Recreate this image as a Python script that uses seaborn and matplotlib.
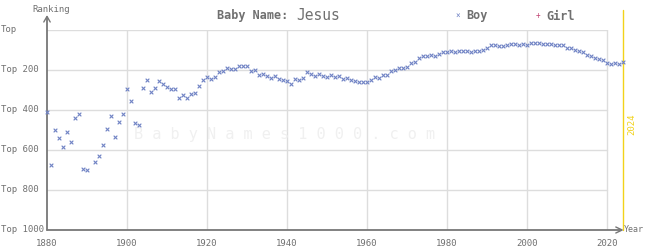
import numpy as np
import pandas as pd
import matplotlib
matplotlib.use("Agg")
import matplotlib.pyplot as plt
import seaborn as sns

# ---- data ----
years = list(range(1880, 2025))
boy_rank = [
    412, 675, 500, 542, 587, 512, 562, 442, 422, 697,   # 1880-1889
    702, np.nan, 662, 632, 577, 495, 432, 537, 462, 422, # 1890-1899
    297, 357, 465, 477, 292, 252, 312, 292, 257, 272,    # 1900-1909
    287, 297, 297, 342, 327, 342, 322, 317, 282, 252,    # 1910-1919
    237, 247, 237, 212, 207, 192, 197, 197, 182, 182,    # 1920-1929
    182, 207, 202, 227, 222, 232, 242, 232, 247, 252,    # 1930-1939
    257, 272, 247, 252, 242, 212, 222, 232, 222, 232,    # 1940-1949
    237, 227, 237, 232, 247, 242, 252, 257, 262, 262,    # 1950-1959
    262, 252, 237, 242, 227, 227, 207, 202, 192, 192,    # 1960-1969
    187, 167, 162, 142, 132, 132, 127, 132, 122, 112,    # 1970-1979
    112, 107, 112, 107, 107, 107, 112, 107, 107, 102,    # 1980-1989
    92, 77, 77, 82, 82, 77, 72, 72, 77, 72,              # 1990-1999
    77, 67, 67, 67, 72, 72, 72, 77, 77, 77,              # 2000-2009
    92, 92, 102, 107, 112, 127, 132, 142, 147, 152,      # 2010-2019
    167, 172, 167, 172, 162,                             # 2020-2024
]
ytick_vals = [0, 200, 400, 600, 800, 1000]
ytick_labels = ["Top", "Top 200", "Top 400", "Top 600", "Top 800", "Top 1000"]
xtick_vals = [1880, 1900, 1920, 1940, 1960, 1980, 2000, 2020]
name = "Jesus"
latest_year = 2024

df = pd.DataFrame({"year": years, "rank": boy_rank})

# ---- style ----
sns.set_theme(style="white")
plt.rcParams["font.family"] = ["DejaVu Sans Mono", "DejaVu Sans"]
TXT = "#707070"
AX = "#777777"
GRID = "#dddddd"
BLUE = "#6f82c4"
PINK = "#c04070"
YEL = "#f2d21a"

fig = plt.figure(figsize=(6.45, 2.5), dpi=100)
ax = fig.add_axes([47 / 645, 20 / 250, 580 / 645, 200 / 250])
ax.set_xlim(1880, 2025)
ax.set_ylim(1000, 0)
for s in ax.spines.values():
    s.set_visible(False)
ax.set_xticks([])
ax.set_yticks([])

# grid
for v in ytick_vals[:-1]:
    ax.plot([1880, 2020], [v, v], color=GRID, lw=1, zorder=0)
for x in xtick_vals[1:]:
    ax.plot([x, x], [0, 1000], color=GRID, lw=1, zorder=0)

# watermark
ax.text(1939.5, 520, "B a b y N a m e s 1 0 0 0 . c o m", color="#f0f0f0",
        fontsize=11, ha="center", va="center", zorder=0)

# latest year line
ax.plot([latest_year, latest_year], [-100, 1000], color=YEL, lw=1, zorder=1, clip_on=False)
ax.text(latest_year + 2.2, 470, str(latest_year), color=YEL, fontsize=6.5,
        rotation=90, ha="center", va="center")

# axes lines
ax.plot([1880, 1880], [-65, 1000], color=AX, lw=1.3, clip_on=False, zorder=3)
ax.plot([1880, 2023.5], [1000, 1000], color=AX, lw=1.3, clip_on=False, zorder=3)
ax.plot([1879.2, 1880, 1880.8], [-40, -68, -40], color=AX, lw=1, clip_on=False, zorder=3)
ax.plot([2022.2, 2023.8, 2022.2], [985, 1000, 1015], color=AX, lw=1, clip_on=False, zorder=3)

# data
sns.scatterplot(data=df, x="year", y="rank", ax=ax, marker="x", s=7,
                color=BLUE, linewidth=0.8, zorder=4, clip_on=False, legend=False)
ax.set_xlabel("")
ax.set_ylabel("")

# tick labels
for v, lab in zip(ytick_vals, ytick_labels):
    fig.text(1 / 645, 1 - (30 + v * 0.2) / 250, lab, color=TXT, fontsize=6.5,
             ha="left", va="center")
for x in xtick_vals:
    fig.text((47 + (x - 1880) * 4) / 645, 7 / 250, str(x), color=TXT, fontsize=6.5,
             ha="center", va="center")

fig.text(32 / 645, 1 - 9 / 250, "Ranking", color=TXT, fontsize=6.5, ha="left", va="center")
fig.text(624 / 645, 20 / 250, "Year", color=TXT, fontsize=6, ha="left", va="center")

# title & legend
fig.text(217 / 645, 1 - 16 / 250, "Baby Name:", color=TXT, fontsize=8.5,
         fontweight="bold", ha="left", va="center")
fig.text(296 / 645, 1 - 16 / 250, name, color=TXT, fontsize=10.5, ha="left", va="center")
fig.text(458 / 645, 1 - 16 / 250, "×", color=BLUE, fontsize=5.5, ha="center", va="center")
fig.text(466 / 645, 1 - 16 / 250, "Boy", color=TXT, fontsize=8.5, fontweight="bold",
         ha="left", va="center")
fig.text(538 / 645, 1 - 16 / 250, "+", color=PINK, fontsize=5.5, ha="center", va="center")
fig.text(546 / 645, 1 - 16 / 250, "Girl", color=TXT, fontsize=8.5, fontweight="bold",
         ha="left", va="center")

fig.savefig("out.png", dpi=100, facecolor="white")
